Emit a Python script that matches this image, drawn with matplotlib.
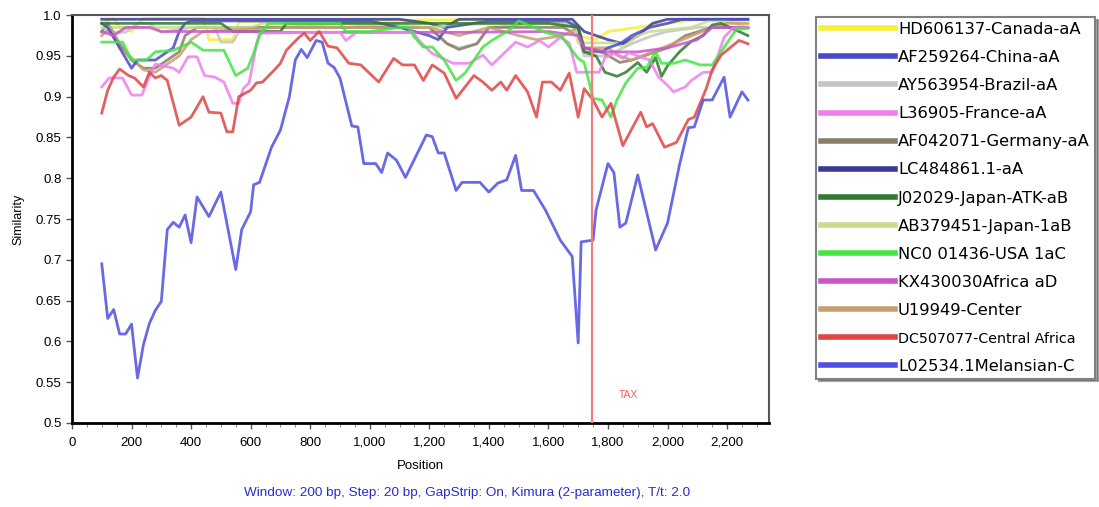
import matplotlib
matplotlib.use("Agg")
import matplotlib.pyplot as plt
from matplotlib.ticker import MultipleLocator, FuncFormatter

plt.rcParams["font.family"] = ["Liberation Sans", "DejaVu Sans"]

# query L02534.1 Melanesian-C
pos_mel = [100, 120, 140, 160, 180, 200, 220, 240, 260, 280, 300, 320, 340, 360, 380, 400, 420, 460, 500, 550,
           570, 600, 610, 630, 670, 700, 730, 750, 770, 790, 820, 840, 860, 880, 900, 940, 960, 980, 1020, 1040,
           1060, 1090, 1120, 1190, 1210, 1230, 1250, 1290, 1310, 1370, 1400, 1430, 1460, 1490, 1510, 1550, 1590,
           1640, 1680, 1700, 1710, 1750, 1760, 1800, 1820, 1840, 1860, 1900, 1960, 2000, 2040, 2070, 2090, 2120,
           2150, 2190, 2210, 2250, 2270]
val_mel = [0.695, 0.628, 0.639, 0.609, 0.609, 0.621, 0.555, 0.596, 0.622, 0.638, 0.649, 0.737, 0.746, 0.740, 0.755,
           0.721, 0.777, 0.753, 0.783, 0.688, 0.737, 0.759, 0.792, 0.795, 0.838, 0.859, 0.900, 0.945, 0.958, 0.948,
           0.969, 0.967, 0.941, 0.936, 0.923, 0.864, 0.863, 0.818, 0.818, 0.807, 0.831, 0.822, 0.801, 0.853, 0.851,
           0.831, 0.831, 0.785, 0.795, 0.795, 0.783, 0.794, 0.798, 0.828, 0.785, 0.785, 0.761, 0.724, 0.704, 0.598,
           0.722, 0.724, 0.761, 0.818, 0.807, 0.740, 0.745, 0.804, 0.712, 0.745, 0.816, 0.862, 0.863, 0.896, 0.896,
           0.924, 0.875, 0.906, 0.896]

pos_caf = [100, 120, 140, 160, 190, 210, 240, 260, 280, 300, 320, 360, 400, 440, 460, 500, 520, 540, 560, 600,
           620, 640, 680, 700, 720, 760, 780, 800, 830, 860, 890, 930, 970, 1030, 1080, 1110, 1150, 1180, 1210, 1250,
           1290, 1350, 1380, 1410, 1440, 1460, 1490, 1530, 1560, 1580, 1610, 1640, 1670, 1700, 1720, 1750, 1780,
           1810, 1850, 1910, 1930, 1950, 1990, 2030, 2070, 2090, 2130, 2150, 2180, 2200, 2240, 2270]
val_caf = [0.880, 0.908, 0.924, 0.934, 0.926, 0.923, 0.912, 0.930, 0.923, 0.926, 0.920, 0.865, 0.875, 0.900, 0.881,
           0.880, 0.857, 0.857, 0.900, 0.908, 0.917, 0.918, 0.933, 0.941, 0.957, 0.972, 0.978, 0.969, 0.980, 0.962,
           0.960, 0.941, 0.939, 0.918, 0.947, 0.939, 0.939, 0.920, 0.939, 0.929, 0.898, 0.926, 0.918, 0.908, 0.918,
           0.908, 0.926, 0.906, 0.875, 0.918, 0.918, 0.908, 0.929, 0.875, 0.910, 0.896, 0.875, 0.892, 0.840, 0.881,
           0.863, 0.867, 0.838, 0.844, 0.872, 0.875, 0.910, 0.933, 0.951, 0.957, 0.969, 0.965]

pos_usa = [100, 170, 200, 250, 280, 340, 360, 400, 440, 510, 550, 590, 610, 630, 660, 900, 920, 1000, 1100, 1130,
           1150, 1180, 1210, 1250, 1290, 1320, 1350, 1380, 1410, 1470, 1500, 1590, 1620, 1640, 1700, 1720, 1750,
           1780, 1810, 1830, 1860, 1900, 1930, 1960, 1980, 2020, 2060, 2110, 2150, 2180, 2200, 2230, 2270]
val_usa = [0.967, 0.967, 0.945, 0.945, 0.955, 0.957, 0.960, 0.967, 0.957, 0.957, 0.926, 0.935, 0.953, 0.975, 0.990,
           0.990, 0.980, 0.980, 0.985, 0.985, 0.973, 0.961, 0.961, 0.945, 0.920, 0.929, 0.945, 0.961, 0.969, 0.982,
           0.993, 0.979, 0.976, 0.976, 0.947, 0.942, 0.898, 0.896, 0.875, 0.896, 0.917, 0.935, 0.936, 0.955, 0.941,
           0.941, 0.945, 0.939, 0.939, 0.955, 0.966, 0.982, 0.984]

pos_fra = [100, 125, 170, 200, 235, 260, 280, 340, 360, 390, 420, 445, 480, 510, 540, 560, 575, 595, 620, 630,
           830, 900, 920, 955, 1145, 1170, 1210, 1280, 1335, 1380, 1410, 1490, 1530, 1570, 1600, 1640, 1670, 1695,
           1770, 1790, 1820, 1850, 1870, 1940, 1970, 2000, 2020, 2060, 2080, 2120, 2150, 2190, 2220, 2270]
val_fra = [0.912, 0.923, 0.923, 0.902, 0.902, 0.925, 0.940, 0.935, 0.930, 0.949, 0.949, 0.926, 0.924, 0.918, 0.892,
           0.892, 0.910, 0.917, 0.965, 0.978, 0.979, 0.979, 0.969, 0.979, 0.979, 0.967, 0.953, 0.941, 0.941, 0.951,
           0.939, 0.967, 0.961, 0.969, 0.961, 0.973, 0.966, 0.930, 0.930, 0.948, 0.953, 0.947, 0.954, 0.945, 0.924,
           0.914, 0.906, 0.912, 0.920, 0.930, 0.930, 0.973, 0.984, 0.985]

pos_can = [100, 140, 160, 200, 240, 440, 460, 540, 560, 1440, 1460, 1520, 1680, 1700, 1760, 1800, 1900, 2000, 2100, 2270]
val_can = [0.990, 0.996, 0.985, 0.980, 0.996, 0.996, 0.970, 0.970, 0.992, 0.995, 0.985, 0.990, 0.990, 0.975, 0.970,
           0.980, 0.985, 0.990, 0.995, 0.990]

pos_chi = [100, 120, 160, 200, 220, 280, 320, 340, 360, 380, 400, 1000, 1100, 1200, 1230, 1260, 1400, 1660, 1700,
           1720, 1780, 1800, 1840, 1880, 1940, 2000, 2050, 2100, 2270]
val_chi = [0.990, 0.985, 0.960, 0.935, 0.945, 0.945, 0.955, 0.960, 0.980, 0.990, 0.993, 0.993, 0.985, 0.975, 0.970,
           0.985, 0.993, 0.993, 0.985, 0.960, 0.955, 0.960, 0.965, 0.975, 0.985, 0.990, 0.995, 0.995, 0.995]

pos_bra = [100, 180, 220, 260, 300, 400, 480, 500, 540, 570, 700, 900, 1100, 1200, 1260, 1300, 1360, 1400, 1600,
           1690, 1720, 1800, 1840, 1880, 1950, 2000, 2100, 2270]
val_bra = [0.979, 0.979, 0.990, 0.990, 0.979, 0.985, 0.985, 0.967, 0.967, 0.985, 0.985, 0.990, 0.985, 0.985, 0.965,
           0.960, 0.965, 0.985, 0.990, 0.985, 0.950, 0.950, 0.958, 0.965, 0.975, 0.980, 0.985, 0.985]

pos_ger = [100, 120, 160, 200, 240, 280, 320, 360, 380, 420, 460, 700, 900, 1200, 1260, 1300, 1360, 1400, 1650,
           1700, 1720, 1780, 1840, 1880, 1920, 2000, 2060, 2150, 2270]
val_ger = [0.980, 0.990, 0.965, 0.945, 0.935, 0.935, 0.945, 0.955, 0.975, 0.985, 0.985, 0.985, 0.985, 0.985, 0.965,
           0.958, 0.965, 0.985, 0.985, 0.975, 0.955, 0.955, 0.942, 0.945, 0.950, 0.960, 0.975, 0.985, 0.985]

pos_lc = [100, 1100, 1200, 1250, 1300, 1680, 1720, 1800, 1850, 1900, 1950, 2000, 2270]
val_lc = [0.995, 0.995, 0.990, 0.985, 0.995, 0.995, 0.980, 0.970, 0.965, 0.975, 0.990, 0.995, 0.995]

pos_j02 = [100, 500, 540, 700, 720, 1200, 1400, 1600, 1700, 1720, 1760, 1790, 1830, 1860, 1900, 1930, 1960, 1980,
           2000, 2040, 2080, 2120, 2150, 2180, 2270]
val_j02 = [0.990, 0.990, 0.980, 0.980, 0.990, 0.990, 0.990, 0.990, 0.985, 0.955, 0.950, 0.930, 0.925, 0.930, 0.942,
           0.930, 0.948, 0.925, 0.938, 0.955, 0.968, 0.975, 0.988, 0.990, 0.975]

pos_ab = [100, 600, 640, 700, 1000, 1200, 1400, 1600, 1680, 1700, 1830, 1850, 1900, 1940, 2080, 2140, 2200, 2270]
val_ab = [0.985, 0.985, 0.990, 0.990, 0.990, 0.985, 0.990, 0.990, 0.990, 0.966, 0.966, 0.960, 0.975, 0.980, 0.985,
          0.993, 0.993, 0.985]

pos_kx = [100, 140, 180, 260, 300, 600, 640, 1000, 1300, 1600, 1700, 1720, 1800, 1900, 2000, 2100, 2150, 2270]
val_kx = [0.980, 0.975, 0.985, 0.985, 0.980, 0.980, 0.979, 0.979, 0.979, 0.980, 0.975, 0.960, 0.955, 0.955, 0.960,
          0.970, 0.985, 0.985]

pos_u19 = [100, 130, 160, 200, 240, 280, 320, 360, 400, 440, 700, 1200, 1300, 1400, 1500, 1560, 1650, 1700, 1720,
           1800, 1840, 1880, 1950, 2050, 2150, 2200, 2270]
val_u19 = [0.975, 0.985, 0.960, 0.948, 0.933, 0.930, 0.940, 0.950, 0.970, 0.980, 0.985, 0.985, 0.975, 0.985, 0.975,
           0.970, 0.975, 0.985, 0.960, 0.960, 0.950, 0.945, 0.955, 0.970, 0.985, 0.990, 0.990]

series = [
    ("HD606137-Canada-aA", pos_can, val_can, "#f4f03a", 2),
    ("AF259264-China-aA", pos_chi, val_chi, "#4a4ac8", 3),
    ("AY563954-Brazil-aA", pos_bra, val_bra, "#c4c4c4", 2),
    ("L36905-France-aA", pos_fra, val_fra, "#ee80ee", 4),
    ("AF042071-Germany-aA", pos_ger, val_ger, "#8a7c66", 2),
    ("LC484861.1-aA", pos_lc, val_lc, "#3a3a96", 2),
    ("J02029-Japan-ATK-aB", pos_j02, val_j02, "#2e7a30", 3),
    ("AB379451-Japan-1aB", pos_ab, val_ab, "#c8dc8c", 2),
    ("NC0 01436-USA 1aC", pos_usa, val_usa, "#44e444", 5),
    ("KX430030Africa aD", pos_kx, val_kx, "#cc55cc", 3),
    ("U19949-Center", pos_u19, val_u19, "#c8a070", 2),
    ("DC507077-Central Africa", pos_caf, val_caf, "#e04444", 6),
    ("L02534.1Melansian-C", pos_mel, val_mel, "#4f4fe0", 7),
]

breakpoint_pos = 1748

fig = plt.figure(figsize=(10.99, 5.07), dpi=100)
ax = fig.add_axes([0.0655, 0.166, 0.634, 0.804])

for name, xs, ys, col, z in series:
    ax.plot(xs, ys, color=col, lw=2, alpha=0.85, label=name, zorder=z,
            solid_joinstyle="round")

ax.axvline(breakpoint_pos, color="#f08080", lw=1.6, zorder=8)
ax.text(1870, 0.534, "TAX", color="#f06060", fontsize=7.5, ha="center", va="center")

ax.set_xlim(0, 2340)
ax.set_ylim(0.5, 1.0)
ax.xaxis.set_major_locator(MultipleLocator(200))
ax.xaxis.set_minor_locator(MultipleLocator(50))
ax.yaxis.set_major_locator(MultipleLocator(0.05))
ax.xaxis.set_major_formatter(FuncFormatter(lambda v, p: f"{int(v):,}"))
ax.yaxis.set_major_formatter(FuncFormatter(lambda v, p: f"{v:.2f}".rstrip("0") if round(v * 100) % 10 else f"{v:.1f}"))
ax.tick_params(axis="both", labelsize=9.5, direction="out", length=4, width=1, color="#555555")
ax.tick_params(axis="x", pad=6)
ax.tick_params(axis="x", which="minor", length=3, color="#777777")

for side in ["left", "bottom"]:
    ax.spines[side].set_linewidth(2)
    ax.spines[side].set_color("black")
for side in ["top", "right"]:
    ax.spines[side].set_linewidth(1.5)
    ax.spines[side].set_color("#555555")

ax.set_xlabel("Position", fontsize=9.5, labelpad=8)
ax.set_ylabel("Similarity", fontsize=9, labelpad=8)

fig.text(467 / 1099, 1 - 493 / 507,
         "Window: 200 bp, Step: 20 bp, GapStrip: On, Kimura (2-parameter), T/t: 2.0",
         color="#2a2ad0", fontsize=9.7, ha="center", va="center")

handles, labels = ax.get_legend_handles_labels()
leg = fig.legend(handles, labels, loc="upper left", bbox_to_anchor=(816 / 1099, 1 - 17 / 507),
                 prop={"family": "DejaVu Sans", "size": 11.8}, handlelength=4.5, handletextpad=0.2,
                 labelspacing=0.8, borderpad=0.3, borderaxespad=0, frameon=True, fancybox=False,
                 shadow=True, framealpha=1)
leg.get_frame().set_edgecolor("#808080")
leg.get_frame().set_linewidth(1.5)
for line in leg.get_lines():
    line.set_linewidth(4)
    line.set_alpha(1)
# the long label is set smaller in the original so it fits the box
leg.get_texts()[11].set_fontsize(10.3)

fig.savefig("out.png", dpi=100)
